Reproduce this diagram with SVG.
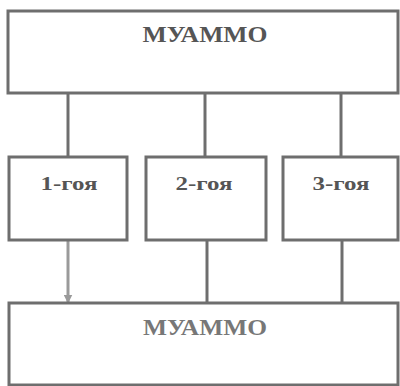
<svg xmlns="http://www.w3.org/2000/svg" width="400" height="386" viewBox="0 0 400 386">
<style>
.box{fill:#fff;stroke:#6e6e6e;stroke-width:3}
.lbl{font-family:"Liberation Serif","Times New Roman",serif;font-weight:bold;fill:#555;text-anchor:middle}
.big{font-size:24px}
.mid{font-size:19px}
.con{stroke:#6e6e6e;stroke-width:3;fill:none}
.con2{stroke:#9a9a9a;stroke-width:3;fill:none}
</style>
<defs>
<marker id="ah" viewBox="0 0 6 6" refX="5" refY="3" markerWidth="3" markerHeight="3" orient="auto" markerUnits="strokeWidth">
<path d="M0,0 L6,3 L0,6 z" fill="#9a9a9a"/>
</marker>
</defs>
<rect width="400" height="386" fill="#fff"/>
<g id="connectors">
<line class="con" x1="68" y1="94" x2="68" y2="157"/>
<line class="con" x1="205" y1="94" x2="205" y2="157"/>
<line class="con" x1="341" y1="94" x2="341" y2="157"/>
<line class="con2" x1="68" y1="240" x2="68" y2="302" marker-end="url(#ah)"/>
<line class="con" x1="207" y1="240" x2="207" y2="303"/>
<line class="con" x1="342" y1="240" x2="342" y2="303"/>
</g>
<g id="top">
<rect class="box" x="8" y="11" width="390" height="82"/>
<text class="lbl big" x="205" y="42" textLength="125" lengthAdjust="spacingAndGlyphs">МУАММО</text>
</g>
<g id="n1">
<rect class="box" x="9" y="157" width="118" height="83"/>
<text class="lbl mid" x="69" y="190" textLength="57" lengthAdjust="spacingAndGlyphs">1-гоя</text>
</g>
<g id="n2">
<rect class="box" x="146" y="157" width="120" height="83"/>
<text class="lbl mid" x="204" y="190" textLength="57" lengthAdjust="spacingAndGlyphs">2-гоя</text>
</g>
<g id="n3">
<rect class="box" x="283" y="157" width="115" height="83"/>
<text class="lbl mid" x="341" y="190" textLength="57" lengthAdjust="spacingAndGlyphs">3-гоя</text>
</g>
<g id="bottom">
<rect class="box" x="9" y="303" width="389" height="82"/>
<text class="lbl big" x="205" y="335" textLength="124" lengthAdjust="spacingAndGlyphs" style="fill:#777">МУАММО</text>
</g>
</svg>
